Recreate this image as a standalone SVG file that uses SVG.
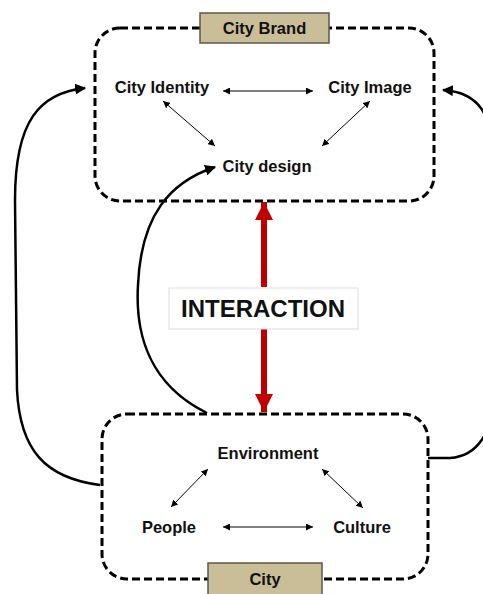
<svg xmlns="http://www.w3.org/2000/svg" width="483" height="594" viewBox="0 0 483 594">
<defs>
<marker id="sa" viewBox="0 0 10 10" refX="10" refY="5" markerWidth="7" markerHeight="7" orient="auto-start-reverse" markerUnits="userSpaceOnUse"><path d="M0,0 L10,5 L0,10 z" fill="#000"/></marker>
<marker id="ba" viewBox="0 0 10 10" refX="9" refY="5" markerWidth="11" markerHeight="11" orient="auto" markerUnits="userSpaceOnUse"><path d="M0,0 L10,5 L0,10 z" fill="#000"/></marker>
<marker id="ra" viewBox="0 0 10 10" refX="10" refY="5" markerWidth="18" markerHeight="18" orient="auto" markerUnits="userSpaceOnUse"><path d="M0,0 L10,5 L0,10 z" fill="#c00000"/></marker>
</defs>
<style>
.box{fill:none;stroke:#000;stroke-width:3;stroke-dasharray:8 4}
.lbl{fill:#c9be97;stroke:#5a5848;stroke-width:1.5}
.t{font-family:"Liberation Sans",Arial,sans-serif;font-weight:bold;font-size:16.5px;fill:#111;text-anchor:middle}
.thin{stroke:#000;stroke-width:1;fill:none;marker-start:url(#sa);marker-end:url(#sa)}
.curve{stroke:#000;stroke-width:2.5;fill:none;marker-end:url(#ba)}
.red{stroke:#c00000;stroke-width:6;fill:none;marker-end:url(#ra)}
</style>
<rect width="483" height="594" fill="#fff"/>
<g id="connectors">
<path class="curve" d="M100,485 C45,478 20,450 17,390 L15,200 C15,120 40,93 85,88"/>
<path class="curve" d="M428,458 L450,458 C478,456 492,432 492,400 L492,150 C492,112 475,92 443,90"/>
<path class="curve" d="M207,413 C150,385 135,335 138,285 C141,215 170,182 215,167"/>
<line class="red" x1="264" y1="287" x2="264" y2="202"/>
<line class="red" x1="264" y1="329" x2="264" y2="412"/>
<line class="thin" x1="223" y1="91" x2="313" y2="91"/>
<line class="thin" x1="163" y1="101" x2="215" y2="146"/>
<line class="thin" x1="370" y1="101" x2="322" y2="146"/>
<line class="thin" x1="208" y1="469" x2="171" y2="507"/>
<line class="thin" x1="322" y1="469" x2="363" y2="508"/>
<line class="thin" x1="223" y1="527" x2="313" y2="527"/>
</g>
<g id="city-brand">
<rect class="box" x="95" y="28" width="339" height="173" rx="25"/>
<rect class="lbl" x="200" y="13" width="129" height="30"/>
<text class="t" x="264.5" y="34" font-size="16">City Brand</text>
</g>
<g id="city-identity"><text class="t" x="162" y="93">City Identity</text></g>
<g id="city-image"><text class="t" x="370" y="93">City Image</text></g>
<g id="city-design"><text class="t" x="267" y="172">City design</text></g>
<g id="city">
<rect class="box" x="102" y="414" width="326" height="165" rx="25"/>
<rect class="lbl" x="208" y="563" width="114" height="33"/>
<text class="t" x="265" y="585">City</text>
</g>
<g id="environment"><text class="t" x="268" y="459">Environment</text></g>
<g id="people"><text class="t" x="169" y="533">People</text></g>
<g id="culture"><text class="t" x="362" y="533">Culture</text></g>
<g id="interaction">
<rect x="169" y="288" width="189" height="41" fill="#fff" stroke="#ddd" stroke-width="1"/>
<text class="t" x="263" y="317" style="font-size:24px">INTERACTION</text>
</g>
</svg>
